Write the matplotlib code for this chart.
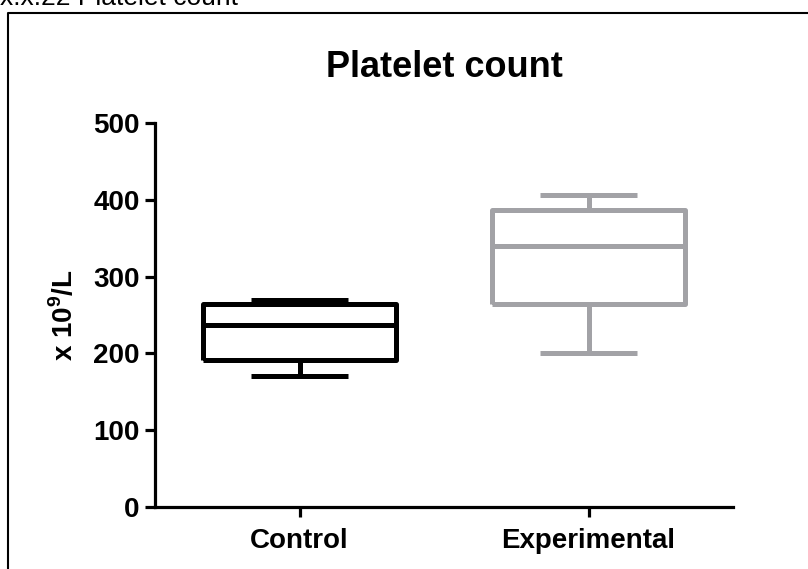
import matplotlib
matplotlib.use('Agg')
import matplotlib.pyplot as plt
from matplotlib.lines import Line2D

plt.rcParams['font.family'] = ['Liberation Sans', 'DejaVu Sans']
plt.rcParams['mathtext.fontset'] = 'custom'
plt.rcParams['mathtext.rm'] = 'Liberation Sans:bold'
plt.rcParams['mathtext.bf'] = 'Liberation Sans:bold'

# Box plot summary values (x 10^9/L)
groups = ['Control', 'Experimental']
whisker_low = [170, 200]
q1 = [191, 264]
median = [237, 340]
q3 = [264, 387]
whisker_high = [269, 406]
colors = ['#000000', '#a2a2a6']

y_ticks = [0, 100, 200, 300, 400, 500]

fig = plt.figure(figsize=(8.08, 5.69), dpi=100)
ax = fig.add_axes([155 / 808, 1 - 507 / 569, 578 / 808, 384 / 569])

for i, g in enumerate(groups):
    stats = [{'whislo': whisker_low[i], 'q1': q1[i], 'med': median[i],
              'q3': q3[i], 'whishi': whisker_high[i], 'label': g}]
    lp = dict(color=colors[i], linewidth=3.6, solid_joinstyle='round',
              solid_capstyle='butt')
    ax.bxp(stats, positions=[i + 1], widths=0.665, capwidths=0.336,
           showfliers=False, boxprops=lp, whiskerprops=lp, capprops=lp,
           medianprops=lp, manage_ticks=False)

ax.set_xlim(0.5, 2.5)
ax.set_ylim(0, 500)
ax.set_xticks([1, 2])
ax.set_xticklabels(groups, fontsize=20, fontweight='bold')
ax.set_yticks(y_ticks)
ax.set_yticklabels([str(v) for v in y_ticks], fontsize=20, fontweight='bold')

for s in ['top', 'right']:
    ax.spines[s].set_visible(False)
for s in ['left', 'bottom']:
    ax.spines[s].set_linewidth(2.3)
    ax.spines[s].set_capstyle('projecting')
ax.tick_params(axis='both', width=2.3, length=7, pad=4)
ax.tick_params(axis='x', pad=8)

ax.set_ylabel(r'x 10$^\mathbf{9}$/L', fontsize=20, fontweight='bold', labelpad=10)
ax.set_title('Platelet count', fontsize=26, fontweight='bold', pad=33)

# outer frame and the clipped caption above it
fig.add_artist(Line2D([8 / 808, 8 / 808, 1.01], [-0.01, 1 - 13 / 569, 1 - 13 / 569],
                      transform=fig.transFigure, color='black', linewidth=1.5))
fig.text(0.0, 1 - 5 / 569, 'x.x.22 Platelet count', fontsize=19, va='baseline')

fig.savefig('out.png', dpi=100)
